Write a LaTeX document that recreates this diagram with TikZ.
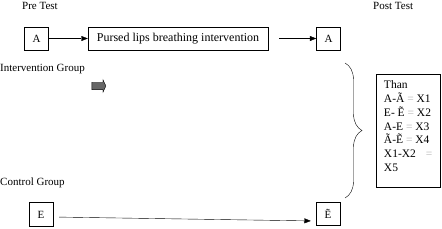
\documentclass[tikz,border=0pt]{standalone}
\usepackage{fontspec}
\setmainfont{Liberation Serif}
\usetikzlibrary{positioning,arrows.meta,shapes.arrows,decorations.pathreplacing}
\definecolor{eqgray}{HTML}{B4B4B4}
\newcommand{\eqg}{\textcolor{eqgray}{=}}

\begin{document}
\begin{tikzpicture}[x=1pt,y=-1pt,
  font=\fontsize{11}{13}\selectfont,
  box/.style={draw, thin, minimum width=24pt, minimum height=23pt, inner sep=2pt},
  lbl/.style={anchor=west, inner sep=0pt},
  arr/.style={-{Triangle[length=6.5pt,width=5pt]}, thin},
]
\useasboundingbox (0,0) rectangle (442,229);
% ---------- top row ----------
\node[lbl] (pre) at (22,6) {Pre Test};
\node[lbl] (post) at (373,6) {Post Test};
\node[box] (a1) at (36.5,38.5) {A};
\node[box, minimum width=180pt] (iv) at (178,38.5) {\fontsize{12}{14}\selectfont Pursed lips breathing intervention};
\node[box] (a2) at (328.5,38.5) {A};
\draw[arr] (a1) -- (iv);
\draw[arr, shorten <=11pt] (iv) -- (a2);
% ---------- groups ----------
\node[lbl] (ig) at (0,69) {Intervention Group};
\node[single arrow, draw, fill=black!60, minimum height=14pt, minimum width=12pt,
      single arrow head extend=2.5pt, single arrow tip angle=130,
      inner xsep=0pt, inner ysep=3.5pt] (blk) at (98,86) {};
\node[lbl] (cg) at (0,183) {Control Group};
% ---------- brace and result ----------
\coordinate (btop) at (345,63);
\coordinate (bbot) at (345,198);
\draw[decorate, decoration={brace, amplitude=17pt}] (btop) -- (bbot);
\node[draw, thin, anchor=north west, align=left, minimum width=64pt,
      inner xsep=5pt, inner ysep=6.5pt, font=\fontsize{11.5}{13.8}\selectfont] (res) at (376,74)
  {Than\\A-Ã \eqg{} X1\\E- Ẽ \eqg{} X2\\A-E \eqg{} X3\\Ã-Ẽ \eqg{} X4\\X1-X2\hspace{10pt}\eqg\\X5\rule[-9.5pt]{0pt}{9.5pt}};
% ---------- bottom row ----------
\node[box, minimum height=24pt] (e1) at (41,214.5) {E};
\node[box] (e2) at (328,214) {Ẽ};
\draw[arr, shorten <=6pt, shorten >=5pt] ([yshift=-2.5pt]e1.east) -- ([yshift=-7pt]e2.west);
\end{tikzpicture}
\end{document}
